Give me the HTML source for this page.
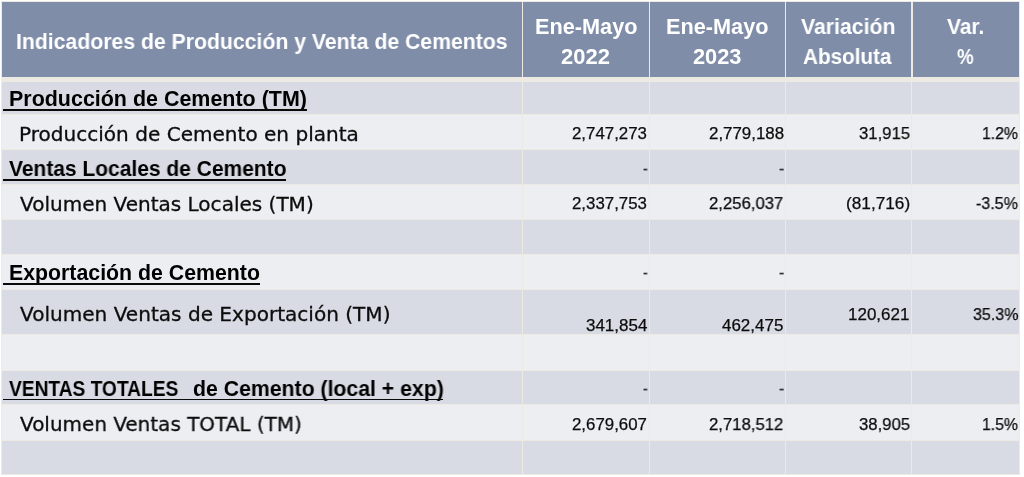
<!DOCTYPE html>
<html lang="es"><head><meta charset="utf-8"><title>Indicadores de Producción y Venta de Cementos</title>
<style>
html,body{margin:0;padding:0;background:#fff;}
body{width:1024px;height:477px;overflow:hidden;position:relative;font-family:"Liberation Sans", sans-serif;}
#frame{position:absolute;left:1.1px;top:0.5px;width:1019.3px;height:474.9px;background:#edeae3;}
.cell{position:absolute;}
.t{position:absolute;white-space:pre;line-height:1;transform-origin:0 0;margin:0;will-change:transform;}
.ul{position:absolute;background:#0a0a0a;}
.hb{font-family:"Liberation Sans", sans-serif;font-weight:700;}
.dv{font-family:"DejaVu Sans", "Liberation Sans", sans-serif;font-weight:400;-webkit-text-stroke:0.3px currentColor;}
.nm{font-family:"Liberation Sans", sans-serif;font-weight:400;-webkit-text-stroke:0.25px currentColor;}
</style></head><body>
<div id="frame"></div>
<div role="table" aria-label="Indicadores de Producción y Venta de Cementos">
<div role="row">
<div class="cell" role="columnheader" style="left:2.4px;top:2px;width:519.2px;height:74.7px;background:#7f8da8">
<span class="t hb" style="left:13.22px;top:28.70px;font-size:21.7px;color:#ffffff;transform:scaleX(0.9781)">Indicadores de Producción y Venta de Cementos</span>
</div>
<div class="cell" role="columnheader" style="left:523.0px;top:2px;width:126.0px;height:74.7px;background:#7f8da8">
<span class="t hb" style="left:11.60px;top:13.60px;font-size:21.7px;color:#ffffff;transform:scaleX(1.0001)">Ene-Mayo</span>
<span class="t hb" style="left:38.40px;top:43.50px;font-size:21.7px;color:#ffffff;transform:scaleX(1.0128)">2022</span>
</div>
<div class="cell" role="columnheader" style="left:650.4px;top:2px;width:134.3px;height:74.7px;background:#7f8da8">
<span class="t hb" style="left:15.20px;top:13.60px;font-size:21.7px;color:#ffffff;transform:scaleX(1.0001)">Ene-Mayo</span>
<span class="t hb" style="left:43.00px;top:43.50px;font-size:21.7px;color:#ffffff;transform:scaleX(1.0045)">2023</span>
</div>
<div class="cell" role="columnheader" style="left:786.1px;top:2px;width:125.1px;height:74.7px;background:#7f8da8">
<span class="t hb" style="left:14.80px;top:13.60px;font-size:21.7px;color:#ffffff;transform:scaleX(0.9791)">Variación</span>
<span class="t hb" style="left:17.10px;top:43.50px;font-size:21.7px;color:#ffffff;transform:scaleX(0.9529)">Absoluta</span>
</div>
<div class="cell" role="columnheader" style="left:912.6px;top:2px;width:106.6px;height:74.7px;background:#7f8da8">
<span class="t hb" style="left:34.30px;top:13.60px;font-size:21.7px;color:#ffffff;transform:scaleX(0.9661)">Var.</span>
<span class="t hb" style="left:44.80px;top:43.50px;font-size:21.7px;color:#ffffff;transform:scaleX(0.8632)">%</span>
</div>
</div>
<div role="row">
<div class="cell" role="cell" style="left:2.4px;top:81.6px;width:519.5px;height:32.1px;background:#d8dbe4">
<span class="t hb" style="left:6.39px;top:7.40px;font-size:21.3px;color:#000000;transform:scaleX(1.0071)">Producción de Cemento (TM)</span>
<span class="ul" style="left:0.50px;top:27.60px;width:303.70px;height:1.60px"></span>
</div>
<div class="cell" role="cell" style="left:522.9px;top:81.6px;width:126.2px;height:32.1px;background:#d8dbe4">
</div>
<div class="cell" role="cell" style="left:650.1px;top:81.6px;width:134.8px;height:32.1px;background:#d8dbe4">
</div>
<div class="cell" role="cell" style="left:785.9px;top:81.6px;width:125.5px;height:32.1px;background:#d8dbe4">
</div>
<div class="cell" role="cell" style="left:912.4px;top:81.6px;width:106.8px;height:32.1px;background:#d8dbe4">
</div>
</div>
<div role="row">
<div class="cell" role="cell" style="left:2.4px;top:114.6px;width:519.5px;height:34.7px;background:#eceef1">
<span class="t dv" style="left:17.10px;top:9.40px;font-size:20px;color:#0c0c0c;transform:scaleX(1.0024)">Producción de Cemento en planta</span>
</div>
<div class="cell" role="cell" style="left:522.9px;top:114.6px;width:126.2px;height:34.7px;background:#eceef1">
<span class="t nm" style="left:49.50px;top:11.60px;font-size:16.8px;color:#0c0c0c;transform:scaleX(1.0037)">2,747,273</span>
</div>
<div class="cell" role="cell" style="left:650.1px;top:114.6px;width:134.8px;height:34.7px;background:#eceef1">
<span class="t nm" style="left:58.70px;top:11.60px;font-size:16.8px;color:#0c0c0c;transform:scaleX(1.0064)">2,779,188</span>
</div>
<div class="cell" role="cell" style="left:785.9px;top:114.6px;width:125.5px;height:34.7px;background:#eceef1">
<span class="t nm" style="left:72.90px;top:11.60px;font-size:16.8px;color:#0c0c0c;transform:scaleX(0.9942)">31,915</span>
</div>
<div class="cell" role="cell" style="left:912.4px;top:114.6px;width:106.8px;height:34.7px;background:#eceef1">
<span class="t nm" style="left:69.86px;top:11.60px;font-size:16.8px;color:#0c0c0c;transform:scaleX(0.9403)">1.2%</span>
</div>
</div>
<div role="row">
<div class="cell" role="cell" style="left:2.4px;top:150.4px;width:519.5px;height:33.2px;background:#d8dbe4">
<span class="t hb" style="left:6.40px;top:8.40px;font-size:21.3px;color:#000000;transform:scaleX(0.9851)">Ventas Locales de Cemento</span>
<span class="ul" style="left:0.50px;top:28.60px;width:283.40px;height:1.60px"></span>
</div>
<div class="cell" role="cell" style="left:522.9px;top:150.4px;width:126.2px;height:33.2px;background:#d8dbe4">
<span class="t nm" style="left:120.10px;top:10.10px;font-size:16.5px;color:#333;transform:scaleX(0.8800)">-</span>
</div>
<div class="cell" role="cell" style="left:650.1px;top:150.4px;width:134.8px;height:33.2px;background:#d8dbe4">
<span class="t nm" style="left:129.00px;top:10.10px;font-size:16.5px;color:#333;transform:scaleX(0.9600)">-</span>
</div>
<div class="cell" role="cell" style="left:785.9px;top:150.4px;width:125.5px;height:33.2px;background:#d8dbe4">
</div>
<div class="cell" role="cell" style="left:912.4px;top:150.4px;width:106.8px;height:33.2px;background:#d8dbe4">
</div>
</div>
<div role="row">
<div class="cell" role="cell" style="left:2.4px;top:184.5px;width:519.5px;height:34.6px;background:#eceef1">
<span class="t dv" style="left:17.90px;top:9.60px;font-size:20px;color:#0c0c0c;transform:scaleX(1.0010)">Volumen Ventas Locales (TM)</span>
</div>
<div class="cell" role="cell" style="left:522.9px;top:184.5px;width:126.2px;height:34.6px;background:#eceef1">
<span class="t nm" style="left:49.50px;top:11.80px;font-size:16.8px;color:#0c0c0c;transform:scaleX(1.0037)">2,337,753</span>
</div>
<div class="cell" role="cell" style="left:650.1px;top:184.5px;width:134.8px;height:34.6px;background:#eceef1">
<span class="t nm" style="left:59.20px;top:11.80px;font-size:16.8px;color:#0c0c0c;transform:scaleX(0.9943)">2,256,037</span>
</div>
<div class="cell" role="cell" style="left:785.9px;top:184.5px;width:125.5px;height:34.6px;background:#eceef1">
<span class="t nm" style="left:60.07px;top:11.80px;font-size:16.8px;color:#0c0c0c;transform:scaleX(1.0260)">(81,716)</span>
</div>
<div class="cell" role="cell" style="left:912.4px;top:184.5px;width:106.8px;height:34.6px;background:#eceef1">
<span class="t nm" style="left:63.90px;top:11.80px;font-size:16.8px;color:#0c0c0c;transform:scaleX(0.9564)">-3.5%</span>
</div>
</div>
<div role="row">
<div class="cell" role="cell" style="left:2.4px;top:220px;width:519.5px;height:33.6px;background:#d8dbe4">
</div>
<div class="cell" role="cell" style="left:522.9px;top:220px;width:126.2px;height:33.6px;background:#d8dbe4">
</div>
<div class="cell" role="cell" style="left:650.1px;top:220px;width:134.8px;height:33.6px;background:#d8dbe4">
</div>
<div class="cell" role="cell" style="left:785.9px;top:220px;width:125.5px;height:33.6px;background:#d8dbe4">
</div>
<div class="cell" role="cell" style="left:912.4px;top:220px;width:106.8px;height:33.6px;background:#d8dbe4">
</div>
</div>
<div role="row">
<div class="cell" role="cell" style="left:2.4px;top:254.5px;width:519.5px;height:34.4px;background:#eceef1">
<span class="t hb" style="left:6.30px;top:8.90px;font-size:21.3px;color:#000000;transform:scaleX(1.0001)">Exportación de Cemento</span>
<span class="ul" style="left:0.50px;top:28.80px;width:256.70px;height:1.60px"></span>
</div>
<div class="cell" role="cell" style="left:522.9px;top:254.5px;width:126.2px;height:34.4px;background:#eceef1">
<span class="t nm" style="left:120.10px;top:9.75px;font-size:16.5px;color:#333;transform:scaleX(0.8800)">-</span>
</div>
<div class="cell" role="cell" style="left:650.1px;top:254.5px;width:134.8px;height:34.4px;background:#eceef1">
<span class="t nm" style="left:129.00px;top:9.75px;font-size:16.5px;color:#333;transform:scaleX(0.9600)">-</span>
</div>
<div class="cell" role="cell" style="left:785.9px;top:254.5px;width:125.5px;height:34.4px;background:#eceef1">
</div>
<div class="cell" role="cell" style="left:912.4px;top:254.5px;width:106.8px;height:34.4px;background:#eceef1">
</div>
</div>
<div role="row">
<div class="cell" role="cell" style="left:2.4px;top:290px;width:519.5px;height:44.1px;background:#d8dbe4">
<span class="t dv" style="left:17.70px;top:14.25px;font-size:20px;color:#0c0c0c;transform:scaleX(1.0030)">Volumen Ventas de Exportación (TM)</span>
</div>
<div class="cell" role="cell" style="left:522.9px;top:290px;width:126.2px;height:44.1px;background:#d8dbe4">
<span class="t nm" style="left:63.20px;top:27.60px;font-size:16.8px;color:#0c0c0c;transform:scaleX(1.0112)">341,854</span>
</div>
<div class="cell" role="cell" style="left:650.1px;top:290px;width:134.8px;height:44.1px;background:#d8dbe4">
<span class="t nm" style="left:72.10px;top:27.60px;font-size:16.8px;color:#0c0c0c;transform:scaleX(1.0112)">462,475</span>
</div>
<div class="cell" role="cell" style="left:785.9px;top:290px;width:125.5px;height:44.1px;background:#d8dbe4">
<span class="t nm" style="left:62.49px;top:16.50px;font-size:16.8px;color:#0c0c0c;transform:scaleX(1.0130)">120,621</span>
</div>
<div class="cell" role="cell" style="left:912.4px;top:290px;width:106.8px;height:44.1px;background:#d8dbe4">
<span class="t nm" style="left:60.40px;top:16.50px;font-size:16.8px;color:#0c0c0c;transform:scaleX(0.9547)">35.3%</span>
</div>
</div>
<div role="row">
<div class="cell" role="cell" style="left:2.4px;top:335px;width:519.5px;height:34.7px;background:#eceef1">
</div>
<div class="cell" role="cell" style="left:522.9px;top:335px;width:126.2px;height:34.7px;background:#eceef1">
</div>
<div class="cell" role="cell" style="left:650.1px;top:335px;width:134.8px;height:34.7px;background:#eceef1">
</div>
<div class="cell" role="cell" style="left:785.9px;top:335px;width:125.5px;height:34.7px;background:#eceef1">
</div>
<div class="cell" role="cell" style="left:912.4px;top:335px;width:106.8px;height:34.7px;background:#eceef1">
</div>
</div>
<div role="row">
<div class="cell" role="cell" style="left:2.4px;top:370.5px;width:519.5px;height:33.6px;background:#d8dbe4">
<span class="t hb" style="left:6.60px;top:8.30px;font-size:21.3px;color:#000000;transform:scaleX(0.8998)">VENTAS TOTALES  </span>
<span class="t hb" style="left:190.30px;top:8.30px;font-size:21.3px;color:#000000;transform:scaleX(0.9972)">de Cemento (local + exp)</span>
<span class="ul" style="left:0.50px;top:28.30px;width:440.50px;height:1.60px"></span>
</div>
<div class="cell" role="cell" style="left:522.9px;top:370.5px;width:126.2px;height:33.6px;background:#d8dbe4">
<span class="t nm" style="left:120.10px;top:9.75px;font-size:16.5px;color:#333;transform:scaleX(0.8800)">-</span>
</div>
<div class="cell" role="cell" style="left:650.1px;top:370.5px;width:134.8px;height:33.6px;background:#d8dbe4">
<span class="t nm" style="left:129.00px;top:9.75px;font-size:16.5px;color:#333;transform:scaleX(0.9600)">-</span>
</div>
<div class="cell" role="cell" style="left:785.9px;top:370.5px;width:125.5px;height:33.6px;background:#d8dbe4">
</div>
<div class="cell" role="cell" style="left:912.4px;top:370.5px;width:106.8px;height:33.6px;background:#d8dbe4">
</div>
</div>
<div role="row">
<div class="cell" role="cell" style="left:2.4px;top:405px;width:519.5px;height:34.5px;background:#eceef1">
<span class="t dv" style="left:18.00px;top:9.30px;font-size:20px;color:#0c0c0c;transform:scaleX(0.9983)">Volumen Ventas TOTAL (TM)</span>
</div>
<div class="cell" role="cell" style="left:522.9px;top:405px;width:126.2px;height:34.5px;background:#eceef1">
<span class="t nm" style="left:49.50px;top:11.70px;font-size:16.8px;color:#0c0c0c;transform:scaleX(1.0037)">2,679,607</span>
</div>
<div class="cell" role="cell" style="left:650.1px;top:405px;width:134.8px;height:34.5px;background:#eceef1">
<span class="t nm" style="left:59.20px;top:11.70px;font-size:16.8px;color:#0c0c0c;transform:scaleX(0.9943)">2,718,512</span>
</div>
<div class="cell" role="cell" style="left:785.9px;top:405px;width:125.5px;height:34.5px;background:#eceef1">
<span class="t nm" style="left:72.90px;top:11.70px;font-size:16.8px;color:#0c0c0c;transform:scaleX(0.9942)">38,905</span>
</div>
<div class="cell" role="cell" style="left:912.4px;top:405px;width:106.8px;height:34.5px;background:#eceef1">
<span class="t nm" style="left:69.86px;top:11.70px;font-size:16.8px;color:#0c0c0c;transform:scaleX(0.9403)">1.5%</span>
</div>
</div>
<div role="row">
<div class="cell" role="cell" style="left:2.4px;top:441px;width:519.5px;height:33.3px;background:#d8dbe4">
</div>
<div class="cell" role="cell" style="left:522.9px;top:441px;width:126.2px;height:33.3px;background:#d8dbe4">
</div>
<div class="cell" role="cell" style="left:650.1px;top:441px;width:134.8px;height:33.3px;background:#d8dbe4">
</div>
<div class="cell" role="cell" style="left:785.9px;top:441px;width:125.5px;height:33.3px;background:#d8dbe4">
</div>
<div class="cell" role="cell" style="left:912.4px;top:441px;width:106.8px;height:33.3px;background:#d8dbe4">
</div>
</div>
</div>
</body></html>
